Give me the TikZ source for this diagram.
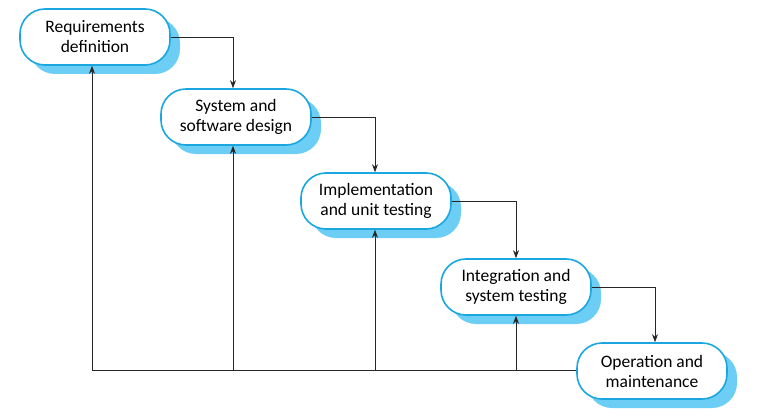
\documentclass[tikz,border=0pt]{standalone}
\usepackage{fontspec}
\setmainfont{Carlito}
\usetikzlibrary{arrows.meta}
\definecolor{edge}{HTML}{1AA7E0}
\definecolor{shad}{HTML}{6CCDF5}
\begin{document}
\begin{tikzpicture}[x=1pt,y=-1pt,
  phase/.style={draw=edge,line width=1.6pt,fill=white,rounded corners=25pt,minimum width=150pt,minimum height=56pt,align=center,font=\fontsize{17.5}{20}\selectfont,inner sep=0pt,
    preaction={draw=none,fill=shad,rounded corners=25pt,transform canvas={shift={(10pt,-9pt)}}}},
  conn/.style={draw=black!85,line width=0.8pt,-{Stealth[length=8pt,width=6pt]}}]
\useasboundingbox (0,0) rectangle (761,412);
\node[phase] (a) at (95,37) {Requirements\\definition};
\node[phase] (b) at (236,117) {System and\\software design};
\node[phase] (c) at (376,201) {Implementation\\and unit testing};
\node[phase] (d) at (516,287) {Integration and\\system testing};
\node[phase] (e) at (652,371) {Operation and\\maintenance};
\draw[conn] (a.east) -| (b.north -| 233,0);
\draw[conn] (b.east) -| (c.north -| 375,0);
\draw[conn] (c.east) -| (d.north -| 516,0);
\draw[conn] (d.east) -| (e.north -| 655,0);
\coordinate (k) at (92,370);
\draw[conn] (e.west |- 0,370) -- (k) -- (a.south -| k);
\draw[conn] (233,370) -- (b.south -| 233,0);
\draw[conn] (375,370) -- (c.south -| 375,0);
\draw[conn] (516,370) -- (d.south -| 516,0);
\end{tikzpicture}
\end{document}
